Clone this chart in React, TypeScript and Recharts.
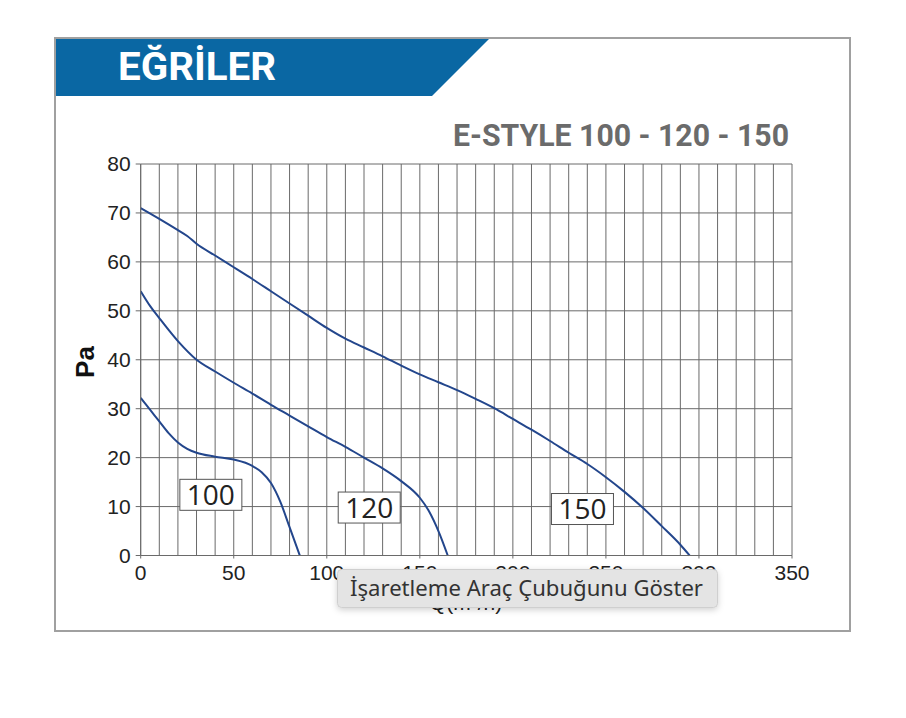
import { CartesianGrid, Line, LineChart, ReferenceDot, ReferenceLine, XAxis, YAxis } from "recharts";

// flow (m³/h) vs static pressure (Pa)
const curve100 = [
  { q: 0, pa: 32.2 }, { q: 5, pa: 29.8 }, { q: 10, pa: 27.4 }, { q: 15, pa: 25 },
  { q: 20, pa: 23.1 }, { q: 25, pa: 21.8 }, { q: 30, pa: 21 }, { q: 40, pa: 20.2 },
  { q: 50, pa: 19.6 }, { q: 60, pa: 18.3 }, { q: 65, pa: 17 }, { q: 70, pa: 14.8 },
  { q: 75, pa: 11 }, { q: 80, pa: 5.8 }, { q: 85.5, pa: 0 },
];

const curve120 = [
  { q: 0, pa: 54 }, { q: 5, pa: 51 }, { q: 10, pa: 48.5 }, { q: 20, pa: 43.8 },
  { q: 30, pa: 40 }, { q: 40, pa: 37.6 }, { q: 50, pa: 35.3 }, { q: 60, pa: 33.1 },
  { q: 70, pa: 30.8 }, { q: 80, pa: 28.6 }, { q: 90, pa: 26.4 }, { q: 100, pa: 24.2 },
  { q: 110, pa: 22.2 }, { q: 120, pa: 20 }, { q: 130, pa: 17.8 }, { q: 140, pa: 15.2 },
  { q: 150, pa: 11.8 }, { q: 155, pa: 9 }, { q: 160, pa: 5 }, { q: 165, pa: 0 },
];

const curve150 = [
  { q: 0, pa: 71 }, { q: 10, pa: 68.8 }, { q: 20, pa: 66.5 }, { q: 25, pa: 65.3 },
  { q: 30, pa: 63.7 }, { q: 40, pa: 61.3 }, { q: 50, pa: 58.9 }, { q: 60, pa: 56.5 },
  { q: 70, pa: 54 }, { q: 80, pa: 51.5 }, { q: 90, pa: 49 }, { q: 100, pa: 46.5 },
  { q: 110, pa: 44.3 }, { q: 120, pa: 42.5 }, { q: 130, pa: 40.7 }, { q: 140, pa: 38.8 },
  { q: 150, pa: 37 }, { q: 160, pa: 35.4 }, { q: 170, pa: 33.8 }, { q: 180, pa: 32 },
  { q: 190, pa: 30.1 }, { q: 200, pa: 27.9 }, { q: 210, pa: 25.7 }, { q: 220, pa: 23.4 },
  { q: 230, pa: 21 }, { q: 240, pa: 18.7 }, { q: 250, pa: 16 }, { q: 260, pa: 13 },
  { q: 270, pa: 9.7 }, { q: 280, pa: 6 }, { q: 290, pa: 2.2 }, { q: 295, pa: 0 },
];

const curveLabels = [
  { q: 37.7, pa: 12.4, text: "100" },
  { q: 122.8, pa: 9.8, text: "120" },
  { q: 237.4, pa: 9.5, text: "150" },
];

const qTicks = [0, 50, 100, 150, 200, 250, 300, 350];
const qGrid = [0, 10, 20, 30, 40, 50, 60, 70, 80, 90, 100, 110, 120, 130, 140, 150, 160, 170, 180, 190, 200, 210, 220, 230, 240, 250, 260, 270, 280, 290, 300, 310, 320, 330, 340, 350];
const paTicks = [0, 10, 20, 30, 40, 50, 60, 70, 80];

const LINE = "#23468c";
const GRID = "#6a6a6a";
const tickStyle = { fill: "#222", fontSize: 21, fontFamily: "'Liberation Sans', Arial, sans-serif" };

function LabelBox(props: any) {
  const { cx, cy, text } = props;
  return (
    <g>
      <rect x={cx - 31} y={cy - 15.5} width={62} height={31} fill="#fff" stroke="#555" strokeWidth={1} />
      <text x={cx} y={cy + 10} textAnchor="middle" fontSize={28} fontFamily="'Open Sans', sans-serif" fill="#222">
        {text}
      </text>
    </g>
  );
}

export default function App() {
  return (
    <div style={{ position: "absolute", left: 0, top: 0, width: 906, height: 718, background: "#fff", overflow: "hidden" }}>
      <svg width={906} height={718} style={{ position: "absolute", left: 0, top: 0 }}>
        <rect x={55} y={38} width={795} height={593} fill="none" stroke="#a0a0a0" strokeWidth={2} />
        <polygon points="56,39 489,39 432,96 56,96" fill="#0a67a3" />
        <text x={118} y={80} fontSize={38} fontWeight={700} fontFamily="Roboto, sans-serif" fill="#fff" textLength={158} lengthAdjust="spacingAndGlyphs">
          EĞRİLER
        </text>
        <text x={453} y={146} fontSize={32} fontWeight={700} fontFamily="Roboto, sans-serif" fill="#6b6b6b" textLength={336} lengthAdjust="spacingAndGlyphs">
          E-STYLE 100 - 120 - 150
        </text>
      </svg>

      <div style={{ position: "absolute", left: 0, top: 0 }}>
        <LineChart width={906} height={718} margin={{ top: 164, right: 114, bottom: 132.5, left: 80.7 }}>
          <CartesianGrid vertical={false} stroke={GRID} strokeWidth={1} />
          {qGrid.map((q) => (
            <ReferenceLine key={q} x={q} stroke={GRID} strokeWidth={1} />
          ))}
          <XAxis
            type="number"
            dataKey="q"
            domain={[0, 350]}
            ticks={qTicks}
            interval={0}
            allowDataOverflow
            height={30}
            tick={tickStyle}
            tickSize={3}
            tickMargin={7}
            stroke={GRID}
          />
          <YAxis
            type="number"
            domain={[0, 80]}
            ticks={paTicks}
            interval={0}
            width={60}
            tick={tickStyle}
            tickSize={5}
            tickMargin={5}
            stroke={GRID}
          />
          <Line data={curve100} dataKey="pa" type="monotone" stroke={LINE} strokeWidth={2} dot={false} isAnimationActive={false} />
          <Line data={curve120} dataKey="pa" type="monotone" stroke={LINE} strokeWidth={2} dot={false} isAnimationActive={false} />
          <Line data={curve150} dataKey="pa" type="monotone" stroke={LINE} strokeWidth={2} dot={false} isAnimationActive={false} />
          {curveLabels.map((l) => (
            <ReferenceDot key={l.text} x={l.q} y={l.pa} r={0} shape={(p: any) => <LabelBox {...p} text={l.text} />} />
          ))}
        </LineChart>
      </div>

      <svg width={906} height={718} style={{ position: "absolute", left: 0, top: 0, pointerEvents: "none" }}>
        <text x={85} y={362} transform="rotate(-90 85 362)" textAnchor="middle" dy={9} fontSize={26} fontWeight={700} fontFamily="'Liberation Sans', Arial, sans-serif" fill="#111">
          Pa
        </text>
        <text x={466} y={610} textAnchor="middle" fontSize={21} fontFamily="'Liberation Sans', Arial, sans-serif" fill="#222">
          Q(m³/h)
        </text>
        <defs>
          <filter id="tipShadow" x="-10%" y="-50%" width="120%" height="200%">
            <feDropShadow dx={0} dy={2} stdDeviation={3} floodColor="#000" floodOpacity={0.18} />
          </filter>
        </defs>
        <rect x={337.5} y={569.5} width={380} height={38} rx={4} fill="#e4e4e4" stroke="#cfcfcf" filter="url(#tipShadow)" />
        <text x={350} y={596} fontSize={21} fontFamily="'Noto Sans', sans-serif" fill="#333" textLength={353} lengthAdjust="spacingAndGlyphs">
          İşaretleme Araç Çubuğunu Göster
        </text>
      </svg>
    </div>
  );
}
